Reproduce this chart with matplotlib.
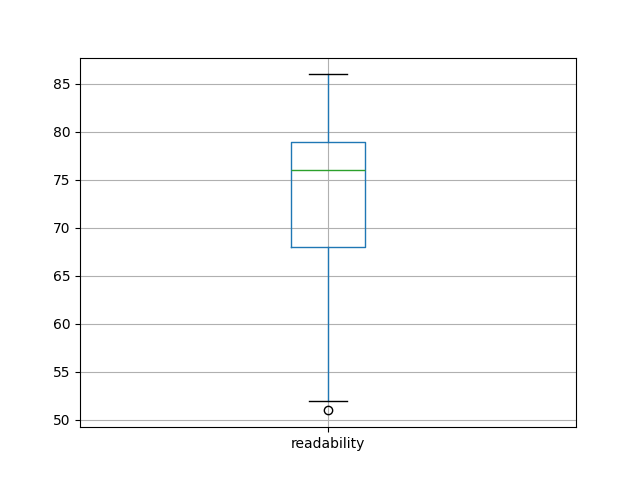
import pandas as pd
import matplotlib
matplotlib.use("Agg")
import matplotlib.pyplot as plt

# readability scores (chosen so quartiles match the chart: 68 / 76 / 79)
readability = [51, 52, 68, 72, 76, 78, 79, 84, 86]

df = pd.DataFrame({"readability": readability})

fig, ax = plt.subplots(figsize=(6.4, 4.8), dpi=100)
df.boxplot(column=["readability"], ax=ax)

plt.savefig("out.png")
